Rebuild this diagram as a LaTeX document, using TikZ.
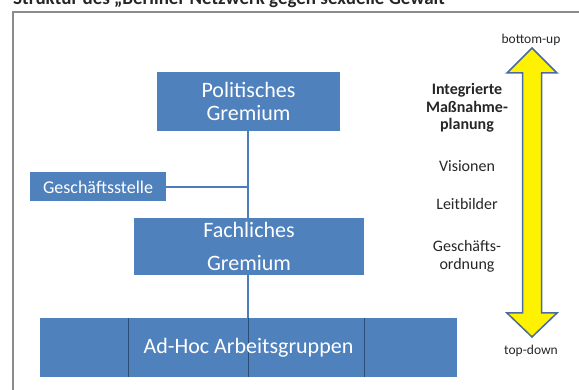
\documentclass[tikz,border=0pt]{standalone}
\usepackage{fontspec}
\setmainfont{Carlito}
\usetikzlibrary{calc}
\definecolor{boxblue}{HTML}{4F81BD}
\definecolor{lineblue}{HTML}{4A7EBB}
\definecolor{divline}{HTML}{2C4D75}
\definecolor{arrowedge}{HTML}{4A6AA0}
\definecolor{framegray}{HTML}{8C8C8C}
\begin{document}
\begin{tikzpicture}[x=1pt,y=-1pt,
  bluebox/.style={draw=none,fill=boxblue,text=white,align=center,inner sep=0pt,outer sep=0pt},
  conn/.style={draw=lineblue,line width=2pt},
  divider/.style={draw=divline,line width=0.7pt},
  sidetext/.style={align=center,inner sep=0pt,text=black!85}]
\useasboundingbox (0,0) rectangle (579,390);
\begin{scope}
\clip (0,0) rectangle (579,390);
\node[anchor=base west,inner sep=0pt,font=\fontsize{19}{21}\selectfont\bfseries,text=black!85] (title) at (13,5) {Struktur des „Berliner Netzwerk gegen sexuelle Gewalt};
\end{scope}
% frame
\draw[framegray,line width=1.5pt] (579,12) -- (13,12) -- (13,392);
% boxes
\node[bluebox,minimum width=183pt,minimum height=59pt,font=\fontsize{22}{23}\selectfont] (pol) at (248.5,101.5) {Politisches\\Gremium};
\node[bluebox,minimum width=136pt,minimum height=29pt,font=\fontsize{18}{20}\selectfont] (ges) at (98,187) {Geschäftsstelle};
\node[bluebox,minimum width=230pt,minimum height=57pt,font=\fontsize{22}{33}\selectfont] (fach) at (249,246.5) {Fachliches\\Gremium};
\node[bluebox,minimum width=417pt,minimum height=59pt] (adhoc) at (248.5,347.5) {};
\foreach \f in {0.211,0.499,0.779}{
  \draw[divider] ($(adhoc.north west)!\f!(adhoc.north east)$) -- ($(adhoc.south west)!\f!(adhoc.south east)$);
}
\node[text=white,inner sep=0pt,font=\fontsize{22}{24}\selectfont] (adhoctext) at (adhoc.center) {Ad-Hoc Arbeitsgruppen};
% connectors
\coordinate (j) at (248,187);
\draw[conn] (pol.south -| j) -- (fach.north -| j);
\draw[conn] (ges.east) -- (j);
\draw[conn] (fach.south -| j) -- (adhoc.north -| j);
% double arrow
\draw[arrowedge,line width=1.5pt,fill=yellow,line join=miter]
  (532,48) -- (557,73) -- (541.5,73) -- (541.5,313) -- (557,313) -- (532,337)
  -- (507,313) -- (522.5,313) -- (522.5,73) -- (507,73) -- cycle;
\node[sidetext,font=\fontsize{13.5}{15}\selectfont] (bu) at (531,40) {bottom-up};
\node[sidetext,font=\fontsize{13.5}{15}\selectfont] (td) at (531,351) {top-down};
% right column texts
\node[sidetext,anchor=base,font=\fontsize{16}{17.5}\selectfont\bfseries] (imp) at (467,130) {Integrierte\\Maßnahme-\\planung};
\node[sidetext,anchor=base,font=\fontsize{16}{18}\selectfont] (vis) at (467,172) {Visionen};
\node[sidetext,anchor=base,font=\fontsize{16}{18}\selectfont] (leit) at (467,210) {Leitbilder};
\node[sidetext,anchor=base,font=\fontsize{16}{18}\selectfont] (go) at (467,270) {Geschäfts-\\ordnung};
\end{tikzpicture}
\end{document}
